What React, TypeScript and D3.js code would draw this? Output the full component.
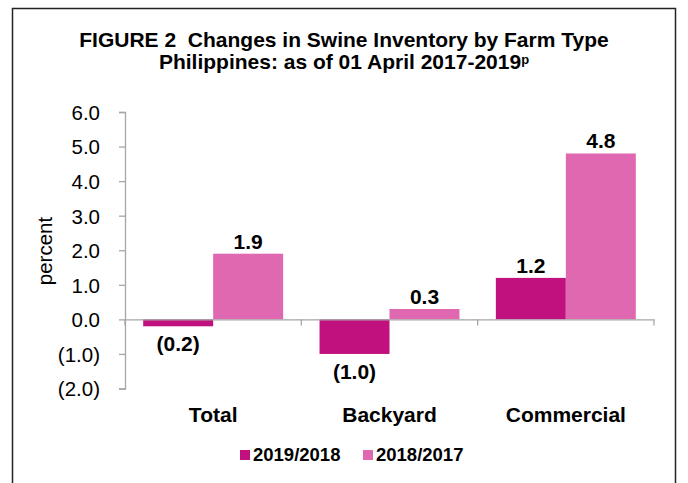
import React, { useRef, useEffect } from 'react';
import * as d3 from 'd3';

const categories = ['Total', 'Backyard', 'Commercial'];
const seriesNames = ['2019/2018', '2018/2017'];
const values2019 = [-0.2, -1.0, 1.2];
const values2018 = [1.9, 0.3, 4.8];
const yTicks = [6, 5, 4, 3, 2, 1, 0, -1, -2];
const colors = ['#C0117E', '#E068B0'];

const fmt = (v: number) => (v < 0 ? `(${Math.abs(v).toFixed(1)})` : v.toFixed(1));

const App = () => {
  const svgRef = useRef<SVGSVGElement>(null);

  useEffect(() => {
    const svg = d3.select(svgRef.current);
    svg.selectAll('*').remove();
    const font = '"Liberation Sans", Arial, sans-serif';

    // frame
    svg.append('rect')
      .attr('x', 12.5).attr('y', 8.5)
      .attr('width', 663).attr('height', 500)
      .attr('fill', 'white')
      .attr('stroke', '#222')
      .attr('stroke-width', 1.5);

    svg.append('text')
      .attr('x', 344).attr('y', 47)
      .attr('text-anchor', 'middle')
      .style('font', `bold 21px ${font}`)
      .style('white-space', 'pre')
      .attr('fill', '#000')
      .text('FIGURE 2  Changes in Swine Inventory by Farm Type');

    const t2 = svg.append('text')
      .attr('x', 344).attr('y', 69)
      .attr('text-anchor', 'middle')
      .attr('fill', '#000')
      .style('font', `bold 21px ${font}`);
    t2.append('tspan').text('Philippines: as of 01 April 2017-2019');
    t2.append('tspan').attr('dy', -5).style('font-size', '13px').text('p');

    const left = 125, right = 654, top = 112, bottom = 388.5;

    const x0 = d3.scaleBand().domain(categories).range([left, right]).padding(0);
    const x1 = d3.scaleBand().domain(seriesNames).range([0, x0.bandwidth()]).paddingInner(0).paddingOuter(0.26);
    const y = d3.scaleLinear().domain([-2, 6]).range([bottom, top]);

    // y axis
    const yAxis = svg.append('g')
      .attr('transform', `translate(${left},0)`)
      .call(d3.axisLeft(y).tickValues(yTicks).tickSize(6).tickFormat((d) => fmt(d as number)));
    yAxis.select('.domain').attr('stroke', '#A6A6A6').attr('stroke-width', 1.3);
    yAxis.selectAll('.tick line').attr('stroke', '#A6A6A6').attr('stroke-width', 1.3);
    yAxis.selectAll('.tick text')
      .attr('x', -25)
      .attr('dy', '0.36em')
      .attr('fill', '#000')
      .style('font', `20.5px ${font}`);

    svg.append('text')
      .attr('transform', `translate(52,251) rotate(-90)`)
      .attr('text-anchor', 'middle')
      .style('font', `20.5px ${font}`)
      .attr('fill', '#000')
      .text('percent');

    const series = [values2019, values2018];
    const g = svg.append('g');
    categories.forEach((c, i) => {
      series.forEach((vals, s) => {
        const v = vals[i];
        const bx = (x0(c) as number) + (x1(seriesNames[s]) as number);
        g.append('rect')
          .attr('x', bx)
          .attr('y', y(Math.max(0, v)))
          .attr('width', x1.bandwidth())
          .attr('height', Math.abs(y(v) - y(0)))
          .attr('fill', colors[s]);
        g.append('text')
          .attr('x', bx + x1.bandwidth() / 2)
          .attr('y', v >= 0 ? y(v) - 5 : y(v) + 25)
          .attr('text-anchor', 'middle')
          .style('font', `bold 21px ${font}`)
          .attr('fill', '#000')
          .text(fmt(v));
      });
    });

    // x axis at zero
    const xAxis = svg.append('g')
      .attr('transform', `translate(0,${y(0)})`)
      .call(d3.axisBottom(x0).tickValues([]).tickSizeOuter(0));
    xAxis.select('.domain').attr('stroke', '#A6A6A6').attr('stroke-width', 1.3);
    [left, ...categories.map((c) => (x0(c) as number) + x0.bandwidth())].forEach((tx) => {
      xAxis.append('line')
        .attr('x1', tx).attr('x2', tx).attr('y1', 0).attr('y2', 6)
        .attr('stroke', '#A6A6A6').attr('stroke-width', 1.3);
    });

    categories.forEach((c) => {
      svg.append('text')
        .attr('x', (x0(c) as number) + x0.bandwidth() / 2)
        .attr('y', 422)
        .attr('text-anchor', 'middle')
        .style('font', `bold 21px ${font}`)
        .attr('fill', '#000')
        .text(c);
    });

    // legend
    const legendX = [240, 363];
    seriesNames.forEach((name, s) => {
      svg.append('rect')
        .attr('x', legendX[s]).attr('y', 450)
        .attr('width', 10).attr('height', 10)
        .attr('fill', colors[s]);
      svg.append('text')
        .attr('x', legendX[s] + 13).attr('y', 461)
        .style('font', `bold 18.5px ${font}`)
        .attr('fill', '#000')
        .text(name);
    });
  }, []);

  return (
    <svg
      ref={svgRef}
      width={688}
      height={483}
      style={{ position: 'absolute', left: 0, top: 0, display: 'block', background: 'white' }}
    />
  );
};

export default App;
